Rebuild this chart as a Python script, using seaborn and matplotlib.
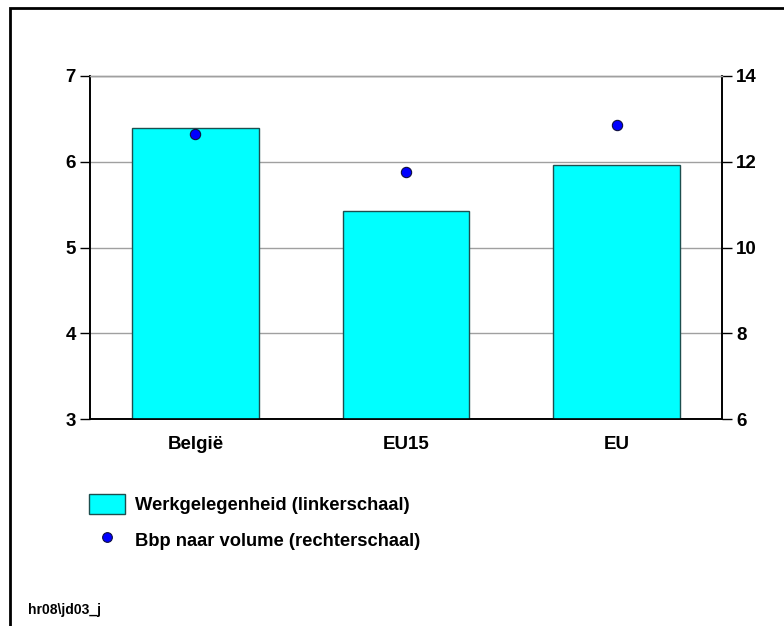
import matplotlib
matplotlib.use("Agg")
import matplotlib.pyplot as plt
import seaborn as sns
import pandas as pd
from matplotlib.patches import Patch, Rectangle
from matplotlib.lines import Line2D

# Data
categories = ["België", "EU15", "EU"]
werkgelegenheid = [6.39, 5.43, 5.96]   # left scale
bbp_volume = [12.65, 11.76, 12.86]     # right scale
left_ticks = [3, 4, 5, 6, 7]
right_ticks = [6, 8, 10, 12, 14]

sns.set_style("white")
plt.rcParams["font.family"] = ["Liberation Sans", "DejaVu Sans"]
plt.rcParams["text.color"] = "black"
plt.rcParams["xtick.color"] = "black"
plt.rcParams["ytick.color"] = "black"

df = pd.DataFrame({"land": categories, "werk": werkgelegenheid, "bbp": bbp_volume})

fig = plt.figure(figsize=(7.84, 6.26), dpi=100)
ax = fig.add_axes([90 / 784, 1 - 419 / 626, 632 / 784, 343 / 626])

sns.barplot(data=df, x="land", y="werk", order=categories, ax=ax,
            color="#00FFFF", saturation=1, width=0.6,
            edgecolor="#1d4f4f", linewidth=1.0, zorder=3)
ax.set_xlim(-0.5, 2.5)
ax.set_ylim(3, 7)
ax.set_yticks(left_ticks)
ax.yaxis.grid(True, color="#a0a0a0", linewidth=1.0, zorder=0)
ax.set_axisbelow(True)
ax.set_xlabel("")
ax.set_ylabel("")

ax2 = ax.twinx()
sns.scatterplot(data=df, x="land", y="bbp", ax=ax2, color="#0000FF",
                edgecolor="#101040", linewidth=0.8, s=55, zorder=5)
ax2.set_ylim(6, 14)
ax2.set_yticks(right_ticks)
ax2.set_ylabel("")
ax2.set_xlabel("")
ax2.grid(False)

for a in (ax, ax2):
    for side in ("left", "right", "bottom"):
        a.spines[side].set_color("black")
        a.spines[side].set_linewidth(1.2)
    a.spines["top"].set_color("#a0a0a0")
    a.spines["top"].set_linewidth(1.0)

ax.tick_params(axis="y", which="major", direction="out", length=7, width=1,
               color="black", pad=3, labelsize=13.5, left=True, labelcolor="black")
ax.tick_params(axis="x", length=0, pad=12, labelsize=13.5, labelcolor="black")
ax2.tick_params(axis="y", which="major", direction="out", length=7, width=1,
                color="black", pad=3, labelsize=13.5, right=True, labelcolor="black")
for lbl in ax.get_yticklabels() + ax.get_xticklabels() + ax2.get_yticklabels():
    lbl.set_fontweight("bold")

handles = [
    Patch(facecolor="#00FFFF", edgecolor="#1d4f4f", linewidth=1.0),
    Line2D([], [], linestyle="none", marker="o", markersize=7,
           markerfacecolor="#0000FF", markeredgecolor="#101040", markeredgewidth=0.8),
]
labels = ["Werkgelegenheid (linkerschaal)", "Bbp naar volume (rechterschaal)"]
leg = fig.legend(handles, labels, loc="upper left",
                 bbox_to_anchor=(74 / 784, 1 - 479 / 626), frameon=False,
                 prop={"size": 13.2, "weight": "bold"},
                 handlelength=2.0, handleheight=1.3,
                 handletextpad=0.55, labelspacing=0.85, borderpad=0.3)

fig.text(28 / 784, 1 - 610 / 626, "hr08\\jd03_j", fontsize=10,
         fontweight="bold", ha="left", va="center")

# outer frame (open to the right and bottom)
fig.patches.append(Rectangle((10 / 784, -0.1), 1.2, 1 - 7.5 / 626 + 0.1,
                             transform=fig.transFigure, fill=False,
                             edgecolor="black", linewidth=2.0))

fig.savefig("out.png", dpi=100)
